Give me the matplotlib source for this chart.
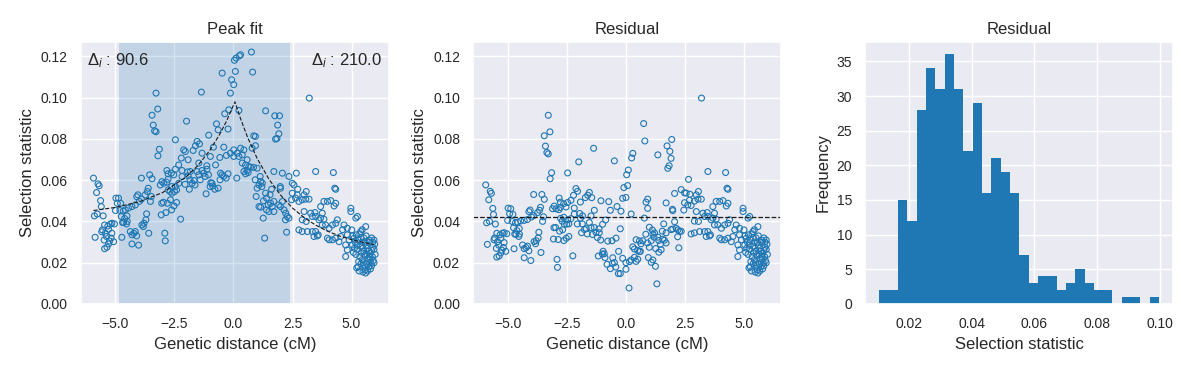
import matplotlib
matplotlib.use("Agg")
import matplotlib.pyplot as plt
from matplotlib.ticker import MultipleLocator
import numpy as np
import seaborn as sns

sns.set_theme(style="darkgrid")
plt.rcParams['font.family'] = ['Liberation Sans', 'DejaVu Sans']
plt.rcParams['mathtext.fontset'] = 'custom'
plt.rcParams['mathtext.rm'] = 'Liberation Sans'
plt.rcParams['mathtext.it'] = 'Liberation Sans:italic'

blue = '#1f77b4'

# genetic distance (cM) of each site
dist = [
    # left flank
    -5.93, -5.74, -5.69, -5.80, -5.63, -5.60, -5.89, -5.77, -5.52, -5.86,
    -5.46, -5.32, -5.22, -5.15, -5.04, -5.55, -5.43, -5.29, -5.15, -5.38,
    -5.18, -5.08, -5.29, -5.36, -5.46, -4.98, -4.87, -4.92, -5.00, -5.48,
    -5.58, -5.25,
    # -4.8 .. -3.7
    -4.78, -4.81, -4.67, -4.75, -4.61, -4.51, -4.65, -4.53, -4.73, -4.58,
    -4.30, -4.16, -4.05, -3.90, -4.37, -4.30, -4.16, -4.10, -3.88, -3.79,
    -3.71, -3.82, -4.30, -4.02, -4.45, -4.70, -4.50, -4.22, -3.90, -3.55,
    -3.45, -3.65, -3.48, -3.52, -3.59, -3.61, -3.74, -3.99, -4.10, -3.68,
    # -3.5 .. -2.4
    -3.28, -3.21, -3.45, -3.40, -3.34, -3.28, -3.14, -3.20, -2.46, -3.03,
    -3.10, -2.77, -2.53, -2.77, -2.82, -2.63, -2.46, -2.46, -2.60, -2.69,
    -2.67, -2.97, -3.06, -2.86, -2.91, -2.89, -2.62, -2.76, -2.50, -2.41,
    -2.80, -3.04, -2.62, -2.52, -2.41, -2.95, -2.83,
    # -2.4 .. -1.0
    -1.99, -1.36, -1.54, -1.44, -1.61, -1.71, -2.11, -2.04, -1.33, -2.21,
    -1.92, -1.47, -1.13, -2.32, -2.18, -1.83, -1.26, -1.12, -1.05, -2.24,
    -2.32, -2.18, -1.92, -1.87, -1.75, -1.67, -1.16, -1.47, -1.54, -1.33,
    -1.84, -1.63, -1.41, -1.20, -1.06, -2.05, -1.95,
    # -1.0 .. 0.2
    -0.48, -0.08, -0.13, 0.01, -0.20, -0.37, -0.72, -0.65, -0.23, -0.41,
    -0.98, -0.58, -0.76, -0.13, 0.01, 0.04, 0.08, -0.91, -0.88, -0.96,
    -0.65, -0.79, -0.55, -0.31, -0.23, -0.48, -0.42, -0.57, 0.14, -0.99,
    -0.30, -0.85,
    # 0.2 .. 1.2
    0.25, 0.30, 0.11, 0.76, 0.81, 0.23, 0.86, 0.93, 0.93, 0.79,
    0.01, 0.16, 0.30, 0.44, 0.37, 0.23, 0.58, 0.51, 0.37, 0.72,
    0.65, 1.00, 0.44, 0.62, 0.58, 0.51, 0.85, 1.00, 0.96, 1.15,
    1.08, 1.22,
    # 1.0 .. 2.4
    1.36, 1.75, 1.95, 1.87, 1.78, 1.84, 1.92, 1.71, 2.07, 1.36,
    1.61, 1.99, 1.40, 1.47, 1.57, 1.71, 1.64, 1.40, 1.50, 1.71,
    1.15, 1.08, 1.26, 1.92, 1.99, 2.07, 2.14, 2.21, 2.28, 2.35,
    2.20, 2.25, 1.32, 2.35, 1.13, 0.92, 1.20, 1.98, 1.27, 1.55,
    # 2.4 .. 4.5
    2.66, 3.48, 4.23, 3.21, 2.49, 2.56, 2.72, 3.08, 2.46, 2.63,
    2.77, 2.91, 3.06, 3.20, 2.70, 2.99, 2.49, 2.99, 3.27, 3.34,
    3.48, 3.62, 3.69, 3.76, 3.83, 2.91, 3.08, 3.45, 3.69, 3.83,
    3.98, 4.12, 4.26, 4.33, 3.34, 3.48, 3.59, 3.41, 3.55, 2.77,
    2.91, 3.13, 3.76, 3.90, 4.05, 4.19, 4.33, 3.98, 4.05, 4.19,
    4.33, 4.47, 4.40, 4.29, 4.33,
    # right flank
    4.54, 4.68, 4.82, 4.97, 4.97, 5.01, 5.18, 5.25, 5.39, 5.60,
    4.82, 4.90, 4.75, 5.04, 4.75, 4.82, 4.62, 5.05, 5.10, 5.15,
    5.20, 5.12, 5.22, 5.28, 5.08, 5.18, 5.25, 5.30, 5.28, 5.22,
    5.32, 5.35, 5.40, 5.45, 5.38, 5.48, 5.42, 5.52, 5.55, 5.35,
    5.45, 5.50, 5.40, 5.55, 5.58, 5.48, 5.60, 5.52, 5.58, 5.45,
    5.62, 5.68, 5.72, 5.65, 5.75, 5.80, 5.85, 5.90, 5.95, 5.88,
    5.78, 5.70, 5.82, 5.92, 6.00, 5.98, 5.90, 5.75, 5.85, 5.95,
    5.65, 5.72, 5.80, 5.68, 5.75, 5.62, 5.85, 5.95,
]

# selection statistic at each site
stat = [
    # left flank
    0.0610, 0.0582, 0.0573, 0.0540, 0.0501, 0.0472, 0.0427, 0.0436, 0.0427, 0.0323,
    0.0383, 0.0378, 0.0387, 0.0391, 0.0388, 0.0359, 0.0343, 0.0362, 0.0343, 0.0327,
    0.0319, 0.0302, 0.0291, 0.0275, 0.0268, 0.0513, 0.0513, 0.0488, 0.0453, 0.0310,
    0.0350, 0.0305,
    # -4.8 .. -3.7
    0.0488, 0.0453, 0.0450, 0.0424, 0.0414, 0.0427, 0.0395, 0.0388, 0.0323, 0.0456,
    0.0472, 0.0480, 0.0529, 0.0508, 0.0351, 0.0335, 0.0351, 0.0330, 0.0383, 0.0391,
    0.0408, 0.0375, 0.0291, 0.0285, 0.0465, 0.0395, 0.0400, 0.0342, 0.0610, 0.0626,
    0.0607, 0.0545, 0.0521, 0.0497, 0.0343, 0.0561, 0.0529, 0.0497, 0.0520, 0.0437,
    # -3.5 .. -2.4
    0.1022, 0.0945, 0.0915, 0.0867, 0.0839, 0.0835, 0.0750, 0.0718, 0.0796, 0.0593,
    0.0577, 0.0605, 0.0626, 0.0631, 0.0647, 0.0634, 0.0653, 0.0569, 0.0537, 0.0545,
    0.0505, 0.0493, 0.0432, 0.0443, 0.0343, 0.0306, 0.0569, 0.0553, 0.0545, 0.0553,
    0.0488, 0.0488, 0.0456, 0.0475, 0.0492, 0.0585, 0.0590,
    # -2.4 .. -1.0
    0.0886, 0.1027, 0.0788, 0.0776, 0.0767, 0.0744, 0.0747, 0.0739, 0.0731, 0.0707,
    0.0699, 0.0683, 0.0670, 0.0674, 0.0647, 0.0642, 0.0634, 0.0653, 0.0818, 0.0411,
    0.0585, 0.0618, 0.0621, 0.0556, 0.0585, 0.0598, 0.0534, 0.0626, 0.0642, 0.0647,
    0.0602, 0.0577, 0.0602, 0.0618, 0.0626, 0.0580, 0.0640,
    # -1.0 .. 0.2
    0.1119, 0.1087, 0.1022, 0.1063, 0.0941, 0.0922, 0.0873, 0.0844, 0.0848, 0.0760,
    0.0715, 0.0710, 0.0674, 0.0731, 0.0715, 0.1181, 0.1127, 0.0585, 0.0572, 0.0588,
    0.0561, 0.0556, 0.0634, 0.0610, 0.0631, 0.0626, 0.0618, 0.0602, 0.0610, 0.0569,
    0.0720, 0.0760,
    # 0.2 .. 1.2
    0.1203, 0.1208, 0.1192, 0.1221, 0.1124, 0.0938, 0.0815, 0.0812, 0.0767, 0.0755,
    0.0747, 0.0731, 0.0755, 0.0747, 0.0723, 0.0715, 0.0699, 0.0674, 0.0683, 0.0663,
    0.0666, 0.0658, 0.0642, 0.0637, 0.0647, 0.0631, 0.0662, 0.0561, 0.0521, 0.0594,
    0.0577, 0.0586,
    # 1.0 .. 2.4
    0.0936, 0.0912, 0.0912, 0.0867, 0.0799, 0.0802, 0.0825, 0.0642, 0.0634, 0.0537,
    0.0556, 0.0561, 0.0513, 0.0480, 0.0488, 0.0497, 0.0472, 0.0456, 0.0448, 0.0448,
    0.0469, 0.0472, 0.0416, 0.0480, 0.0472, 0.0497, 0.0456, 0.0440, 0.0424, 0.0416,
    0.0408, 0.0348, 0.0319, 0.0618, 0.0618, 0.0602, 0.0569, 0.0569, 0.0500, 0.0530,
    # 2.4 .. 4.5
    0.0634, 0.0642, 0.0637, 0.0998, 0.0585, 0.0577, 0.0556, 0.0545, 0.0505, 0.0513,
    0.0497, 0.0505, 0.0508, 0.0508, 0.0529, 0.0529, 0.0537, 0.0448, 0.0440, 0.0424,
    0.0424, 0.0408, 0.0416, 0.0440, 0.0411, 0.0408, 0.0400, 0.0443, 0.0472, 0.0497,
    0.0497, 0.0501, 0.0475, 0.0488, 0.0351, 0.0351, 0.0335, 0.0327, 0.0330, 0.0359,
    0.0351, 0.0351, 0.0383, 0.0383, 0.0367, 0.0383, 0.0391, 0.0319, 0.0311, 0.0311,
    0.0319, 0.0302, 0.0408, 0.0561, 0.0556,
    # right flank
    0.0327, 0.0383, 0.0367, 0.0464, 0.0448, 0.0359, 0.0416, 0.0424, 0.0351, 0.0375,
    0.0335, 0.0311, 0.0286, 0.0286, 0.0230, 0.0262, 0.0360, 0.0330, 0.0318, 0.0300,
    0.0335, 0.0270, 0.0285, 0.0310, 0.0250, 0.0240, 0.0265, 0.0205, 0.0180, 0.0175,
    0.0160, 0.0340, 0.0320, 0.0300, 0.0280, 0.0270, 0.0250, 0.0255, 0.0235, 0.0230,
    0.0215, 0.0200, 0.0195, 0.0185, 0.0165, 0.0155, 0.0150, 0.0320, 0.0300, 0.0360,
    0.0285, 0.0270, 0.0255, 0.0240, 0.0230, 0.0245, 0.0260, 0.0275, 0.0265, 0.0230,
    0.0215, 0.0220, 0.0200, 0.0210, 0.0240, 0.0290, 0.0300, 0.0300, 0.0320, 0.0310,
    0.0195, 0.0180, 0.0170, 0.0160, 0.0310, 0.0330, 0.0185, 0.0200,
]

# fitted peak curve (dashed line)
fit_x = [-5.93, -5.0, -4.0, -3.0, -2.0, -1.5, -1.0, -0.6, -0.3, 0.06,
         0.3, 0.6, 1.0, 1.5, 2.0, 2.5, 3.0, 3.5, 4.0, 4.5, 5.0, 5.5, 5.95]
fit_y = [0.0453, 0.0468, 0.0495, 0.0540, 0.0616, 0.0672, 0.0745, 0.0819, 0.0885, 0.0980,
         0.0898, 0.0807, 0.0706, 0.0605, 0.0527, 0.0465, 0.0418, 0.0381, 0.0352, 0.0329,
         0.0312, 0.0298, 0.0288]
baseline = 0.042

# peak window and its two deltas
win_lo, win_hi = -4.85, 2.41
delta_left, delta_right = 90.6, 210.0

# histogram of residual
hist_counts = [2, 2, 15, 12, 28, 34, 31, 36, 31, 22, 29, 16, 21, 19, 16,
               7, 3, 4, 4, 2, 3, 5, 3, 2, 2, 0, 1, 1, 0, 1]
hist_lo, hist_hi = 0.0105, 0.0998

dist = np.array(dist)
stat = np.array(stat)
fit_at = np.interp(dist, fit_x, fit_y)
resid = stat - np.clip(fit_at - baseline, 0, None)

fig, axes = plt.subplots(1, 3, figsize=(11.89, 3.68), dpi=100)
plt.subplots_adjust(left=0.0681, right=0.9866, bottom=0.174, top=0.886, wspace=0.275)
ax1, ax2, ax3 = axes

ax1.axvspan(win_lo, win_hi, color=blue, alpha=0.2, lw=0)
ax1.scatter(dist, stat, s=18, facecolors='none', edgecolors=blue, linewidths=0.8)
ax1.plot(fit_x, fit_y, 'k--', lw=0.8)
ax1.text(0.02, 0.965, r'$\mathrm{\Delta}_i$ : %.1f' % delta_left, transform=ax1.transAxes,
         ha='left', va='top', fontsize=12)
ax1.text(0.98, 0.965, r'$\mathrm{\Delta}_i$ : %.1f' % delta_right, transform=ax1.transAxes,
         ha='right', va='top', fontsize=12)
ax1.set_title('Peak fit')
ax1.set_ylabel('Selection statistic')

ax2.scatter(dist, resid, s=18, facecolors='none', edgecolors=blue, linewidths=0.8)
ax2.axhline(baseline, color='k', ls='--', lw=0.9)
ax2.set_title('Residual')
ax2.set_ylabel('Selection statistic')

for ax in (ax1, ax2):
    ax.set_xlim(-6.46, 6.57)
    ax.set_ylim(0, 0.127)
    ax.xaxis.set_major_locator(MultipleLocator(2.5))
    ax.set_xlabel('Genetic distance (cM)')

edges = np.linspace(hist_lo, hist_hi, len(hist_counts) + 1)
ax3.hist(edges[:-1], bins=edges, weights=hist_counts, color=blue, edgecolor='none', lw=0)
ax3.set_title('Residual')
ax3.set_xlabel('Selection statistic')
ax3.set_ylabel('Frequency')

for ax in axes:
    ax.tick_params(labelsize=10)

fig.savefig('out.png', dpi=100)
